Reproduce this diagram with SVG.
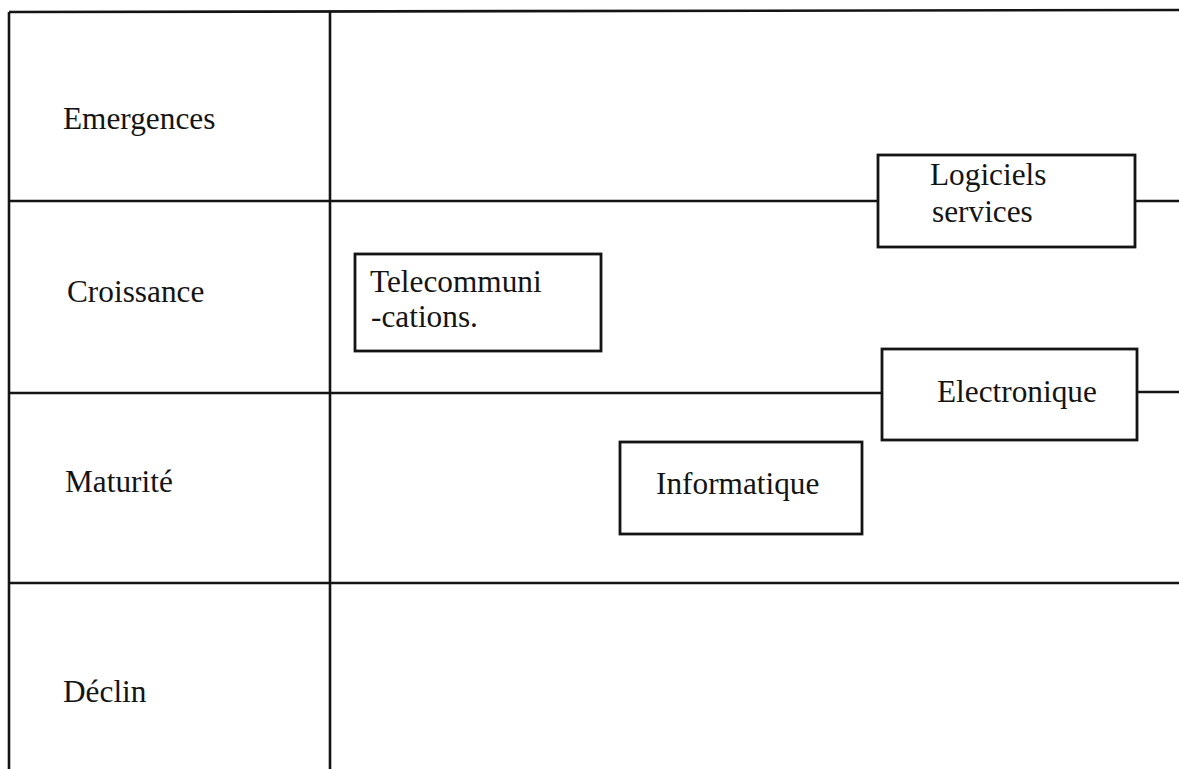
<svg xmlns="http://www.w3.org/2000/svg" width="1179" height="769" viewBox="0 0 1179 769">
<style>
.ln{stroke:#141414;stroke-width:2.6;fill:none}
.bx{stroke:#141414;stroke-width:2.8;fill:#fff}
.t{font-family:"Liberation Serif","Times New Roman",serif;font-size:31.3px;fill:#141414}
</style>
<rect width="1179" height="769" fill="#fff"/>
<g id="connectors">
<line class="ln" x1="9" y1="12" x2="1179" y2="10"/>
<line class="ln" x1="9" y1="12" x2="9" y2="769"/>
<line class="ln" x1="330" y1="11" x2="330" y2="769"/>
<line class="ln" x1="9" y1="201" x2="878" y2="201"/>
<line class="ln" x1="1135" y1="201" x2="1179" y2="201"/>
<line class="ln" x1="9" y1="393" x2="882" y2="393"/>
<line class="ln" x1="1137" y1="392" x2="1179" y2="392"/>
<line class="ln" x1="9" y1="583" x2="1179" y2="583"/>
</g>
<g id="label-emergences"><text class="t" x="63" y="129">Emergences</text></g>
<g id="label-croissance"><text class="t" x="67" y="302">Croissance</text></g>
<g id="label-maturite"><text class="t" x="65" y="492">Maturité</text></g>
<g id="label-declin"><text class="t" x="63" y="702">Déclin</text></g>
<g id="node-logiciels">
<rect class="bx" x="878" y="155" width="257" height="92"/>
<text class="t" x="930" y="185">Logiciels</text>
<text class="t" x="932" y="222">services</text>
</g>
<g id="node-telecom">
<rect class="bx" x="355" y="254" width="246" height="97"/>
<text class="t" x="370" y="292">Telecommuni</text>
<text class="t" x="371" y="327">-cations.</text>
</g>
<g id="node-electronique">
<rect class="bx" x="882" y="349" width="255" height="91"/>
<text class="t" x="937" y="402">Electronique</text>
</g>
<g id="node-informatique">
<rect class="bx" x="620" y="442" width="242" height="92"/>
<text class="t" x="656" y="494">Informatique</text>
</g>
</svg>
